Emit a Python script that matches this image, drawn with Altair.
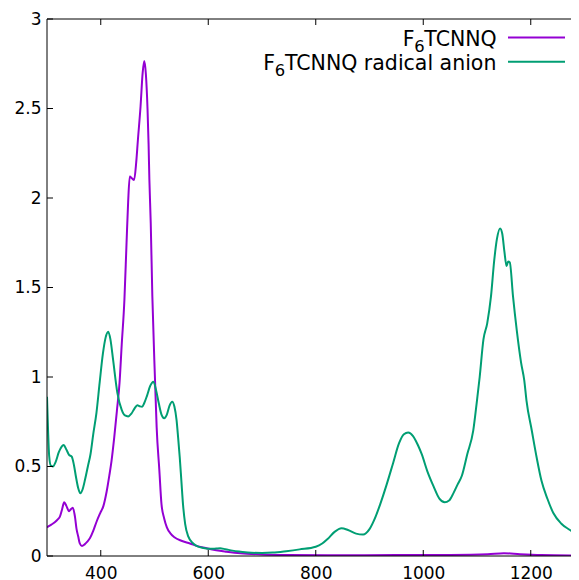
import altair as alt
import pandas as pd

# ---- data ----
wl_f6 = [300, 302, 308, 315, 320, 324, 328, 332, 336, 341, 344, 348, 352, 355, 358, 361, 365, 370, 375,
         380, 386, 392, 399, 405, 411, 416, 420, 425, 430, 435, 439, 444, 448, 451, 454, 458, 462, 466,
         469, 474, 478, 481, 484, 487, 489, 490.5, 493, 496, 501, 504, 509, 513, 518, 523, 530, 537, 550,
         566, 580, 597, 615, 634, 660, 700, 750, 850, 950, 1050, 1120, 1150, 1180, 1220, 1290]
abs_f6 = [0.16, 0.164, 0.175, 0.19, 0.205, 0.22, 0.26, 0.30, 0.28, 0.25, 0.26, 0.27, 0.22, 0.15, 0.11,
          0.07, 0.056, 0.065, 0.08, 0.10, 0.14, 0.19, 0.24, 0.28, 0.36, 0.45, 0.53, 0.66, 0.81, 0.97, 1.18,
          1.43, 1.75, 1.98, 2.12, 2.11, 2.10, 2.20, 2.32, 2.51, 2.70, 2.765, 2.69, 2.50, 2.30, 2.10, 1.86,
          1.45, 0.98, 0.72, 0.48, 0.29, 0.21, 0.16, 0.125, 0.105, 0.085, 0.07, 0.055, 0.043, 0.032, 0.024,
          0.015, 0.009, 0.006, 0.004, 0.005, 0.006, 0.010, 0.016, 0.010, 0.005, 0.003]

wl_anion = [300, 302, 304, 307, 311, 316, 322, 327, 331, 336, 341, 346, 350, 354, 358, 362, 366, 371,
            376, 381, 386, 392, 398, 404, 409, 414, 418, 423, 431, 439, 445, 451, 457, 463, 468, 473, 477,
            481, 486, 492, 498, 503, 508, 513, 518, 523, 528, 533, 537, 541, 544, 547, 550, 553, 557, 563,
            572, 581, 591, 605, 615, 622, 632, 645, 660, 680, 700, 720, 745, 770, 800, 812, 822, 835, 848,
            860, 875, 888, 900, 910, 920, 932, 944, 955, 964, 972, 981, 990, 997, 1008, 1019, 1030, 1040,
            1048, 1056, 1064, 1072, 1082, 1093, 1100, 1105, 1112, 1119, 1126, 1132, 1137, 1143, 1147, 1151,
            1155, 1158, 1161, 1167, 1174, 1182, 1188, 1192, 1202, 1211, 1220, 1231, 1242, 1257, 1273, 1290]
abs_anion = [0.89, 0.70, 0.56, 0.505, 0.50, 0.525, 0.58, 0.61, 0.62, 0.595, 0.565, 0.555, 0.51, 0.44,
             0.38, 0.35, 0.37, 0.43, 0.50, 0.57, 0.68, 0.80, 0.97, 1.13, 1.22, 1.253, 1.21, 1.095, 0.91,
             0.816, 0.785, 0.78, 0.795, 0.825, 0.842, 0.836, 0.834, 0.855, 0.895, 0.95, 0.974, 0.925,
             0.853, 0.79, 0.77, 0.79, 0.84, 0.862, 0.835, 0.76, 0.66, 0.55, 0.42, 0.29, 0.18, 0.108, 0.07,
             0.052, 0.045, 0.04, 0.042, 0.043, 0.038, 0.03, 0.024, 0.018, 0.017, 0.019, 0.027, 0.037,
             0.052, 0.07, 0.095, 0.135, 0.155, 0.145, 0.125, 0.12, 0.15, 0.21, 0.29, 0.40, 0.52, 0.63,
             0.68, 0.69, 0.67, 0.62, 0.57, 0.47, 0.39, 0.32, 0.30, 0.31, 0.35, 0.40, 0.45, 0.57, 0.70,
             0.87, 1.00, 1.21, 1.30, 1.45, 1.65, 1.77, 1.83, 1.80, 1.70, 1.62, 1.645, 1.64, 1.45, 1.26,
             1.08, 0.98, 0.87, 0.70, 0.55, 0.42, 0.32, 0.24, 0.18, 0.145, 0.105]

series_names = ["F6TCNNQ", "F6TCNNQ radical anion"]
# key text pieces: prefix, subscript, rest (rendered as F + small lowered 6 + rest)
key_prefix = ["F", "F"]
key_sub = ["6", "6"]
key_rest = ["TCNNQ", "TCNNQ radical anion"]
series_colors = ["#9400d3", "#009e73"]
x_ticks = [400, 600, 800, 1000, 1200]
y_ticks = [0, 0.5, 1, 1.5, 2, 2.5, 3]

# ---- layout ----
W, H = 524, 537
PX_PER_UNIT = 107.5 / 200.0
X_MAX = 300 + W / PX_PER_UNIT
FONT = "DejaVu Sans"
TICK = 6
KEY_FS = 20.5
SUB_FS = KEY_FS * 0.8

df = pd.concat([
    pd.DataFrame({"wl": wl_f6, "a": abs_f6, "series": series_names[0], "o": 0}),
    pd.DataFrame({"wl": wl_anion, "a": abs_anion, "series": series_names[1], "o": 1}),
])

xs = alt.Scale(domain=[300, X_MAX], nice=False, zero=False)
ys = alt.Scale(domain=[0, 3], nice=False, zero=False)

lines = alt.Chart(df).mark_line(strokeWidth=2, clip=True, interpolate="monotone").encode(
    x=alt.X("wl:Q", scale=xs, title=None,
            axis=alt.Axis(values=x_ticks, format="d", labelPadding=9)),
    y=alt.Y("a:Q", scale=ys, title=None,
            axis=alt.Axis(values=y_ticks, format="~g", labelPadding=6)),
    color=alt.Color("series:N", scale=alt.Scale(domain=series_names, range=series_colors), legend=None),
    order="o:Q",
)

xt = pd.DataFrame({"xt": x_ticks})
yt = pd.DataFrame({"yt": y_ticks})
tick_x_bottom = alt.Chart(xt).mark_rule(color="black", strokeWidth=1).encode(
    x=alt.X("xt:Q", scale=xs, title=None), y=alt.value(H), y2=alt.value(H - TICK))
tick_x_top = alt.Chart(xt).mark_rule(color="black", strokeWidth=1).encode(
    x=alt.X("xt:Q", scale=xs, title=None), y=alt.value(0), y2=alt.value(TICK))
tick_y_left = alt.Chart(yt).mark_rule(color="black", strokeWidth=1).encode(
    y=alt.Y("yt:Q", scale=ys, title=None), x=alt.value(0), x2=alt.value(TICK))

# frame: left, top, bottom (the right side lies beyond the window)
one = pd.DataFrame({"k": [0]})
frame_top = alt.Chart(one).mark_rule(color="black", strokeWidth=1).encode(
    x=alt.value(0), x2=alt.value(W), y=alt.value(0))
frame_bottom = alt.Chart(one).mark_rule(color="black", strokeWidth=1).encode(
    x=alt.value(0), x2=alt.value(W), y=alt.value(H))
frame_left = alt.Chart(one).mark_rule(color="black", strokeWidth=1).encode(
    x=alt.value(0), y=alt.value(0), y2=alt.value(H))

# manual key (top right, labels left of samples)
key_layers = []
row_x0 = [355.7, 216.3]
row_base = [26.7, 51.0]
row_line = [18.4, 42.7]
F_ADV = 0.575 * KEY_FS
SUB_ADV = 0.636 * SUB_FS
for i, col in enumerate(series_colors):
    kd = pd.DataFrame({"p": [key_prefix[i]], "s": [key_sub[i]], "r": [key_rest[i]]})
    x0 = row_x0[i]
    key_layers.append(alt.Chart(kd).mark_text(align="left", baseline="alphabetic", fontSize=KEY_FS,
                                              font=FONT, color="black").encode(
        text="p:N", x=alt.value(x0), y=alt.value(row_base[i])))
    key_layers.append(alt.Chart(kd).mark_text(align="left", baseline="alphabetic", fontSize=SUB_FS,
                                              font=FONT, color="black").encode(
        text="s:N", x=alt.value(x0 + F_ADV - 0.3), y=alt.value(row_base[i] + 6)))
    key_layers.append(alt.Chart(kd).mark_text(align="left", baseline="alphabetic", fontSize=KEY_FS,
                                              font=FONT, color="black").encode(
        text="r:N", x=alt.value(x0 + F_ADV + SUB_ADV - 0.6), y=alt.value(row_base[i])))
    key_layers.append(alt.Chart(kd).mark_rule(color=col, strokeWidth=2).encode(
        x=alt.value(461), x2=alt.value(518), y=alt.value(row_line[i])))

chart = alt.layer(lines, tick_x_bottom, tick_x_top, tick_y_left,
                  frame_top, frame_bottom, frame_left, *key_layers).properties(
    width=W, height=H,
    padding={"left": 39, "top": 11, "right": 0, "bottom": 24},
    autosize=alt.AutoSizeParams(type="none"),
    background="white",
).configure_view(stroke=None).configure_axis(
    ticks=False, domain=False, grid=False, labelFontSize=17, labelFont=FONT,
    labelColor="black", labelFlush=False
)

chart.save("out.html", embed_options={"renderer": "svg", "actions": False})
